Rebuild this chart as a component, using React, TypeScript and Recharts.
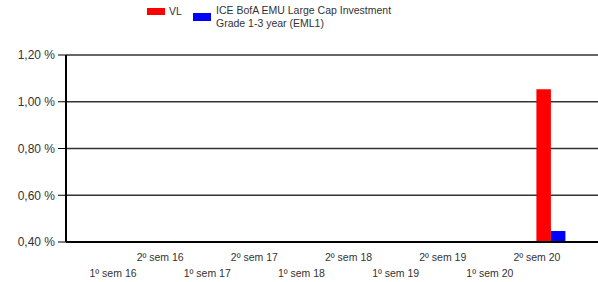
import React from "react";
import { BarChart, Bar, XAxis, YAxis, CartesianGrid } from "recharts";

const categories = [
  "1º sem 16", "2º sem 16", "1º sem 17", "2º sem 17", "1º sem 18",
  "2º sem 18", "1º sem 19", "2º sem 19", "1º sem 20", "2º sem 20",
];
const vlValues = [null, null, null, null, null, null, null, null, null, 1.053];
const emlValues = [null, null, null, null, null, null, null, null, null, 0.447];
const yTicks = [0.4, 0.6, 0.8, 1.0, 1.2];
const seriesNames = ["VL", "ICE BofA EMU Large Cap Investment\nGrade 1-3 year (EML1)"];

const data = categories.map((cat, i) => ({ cat, vl: vlValues[i], eml: emlValues[i] }));

const font = "Arial, 'Liberation Sans', sans-serif";

const XTick = (props: any) => {
  const { x, y, payload, index } = props;
  const row = index % 2 === 1 ? 11 : 27;
  return (
    <text x={x - 14} y={y + row} textAnchor="middle" fontSize={10.5} fill="#333" fontFamily={font}>
      {payload.value}
    </text>
  );
};

export default function App() {
  return (
    <div style={{ position: "absolute", left: 0, top: 0, width: 598, height: 282, fontFamily: font }}>
      <div style={{ position: "absolute", left: 147, top: 8, width: 18, height: 7, background: "#ff0000" }} />
      <div style={{ position: "absolute", left: 169, top: 5, fontSize: 10.5, color: "#333" }}>{seriesNames[0]}</div>
      <div style={{ position: "absolute", left: 193, top: 13, width: 18, height: 8, background: "#0000ff" }} />
      <div style={{ position: "absolute", left: 216, top: 4, fontSize: 10.5, lineHeight: "13px", color: "#333", whiteSpace: "pre" }}>
        {seriesNames[1]}
      </div>
      <BarChart width={598} height={282} data={data} margin={{ top: 55, right: 0, left: 0, bottom: 0 }} barGap={0}>
        <CartesianGrid vertical={false} stroke="#333" strokeWidth={1.5} />
        <XAxis
          dataKey="cat"
          interval={0}
          height={40}
          tickLine={false}
          axisLine={{ stroke: "#000", strokeWidth: 2 }}
          padding={{ left: 37.5, right: 23.5 }}
          tick={<XTick />}
        />
        <YAxis
          width={66}
          domain={[0.4, 1.2]}
          ticks={yTicks}
          tickFormatter={(v: number) => v.toFixed(2).replace(".", ",") + " %"}
          axisLine={{ stroke: "#000", strokeWidth: 2 }}
          tickLine={{ stroke: "#000" }}
          tickSize={8}
          tickMargin={3}
          tick={{ fontSize: 12, fill: "#333", fontFamily: font }}
        />
        <Bar dataKey="vl" name={seriesNames[0]} fill="#ff0000" barSize={14.5} isAnimationActive={false} />
        <Bar dataKey="eml" name={seriesNames[1]} fill="#0000ff" barSize={14.5} isAnimationActive={false} />
      </BarChart>
    </div>
  );
}
